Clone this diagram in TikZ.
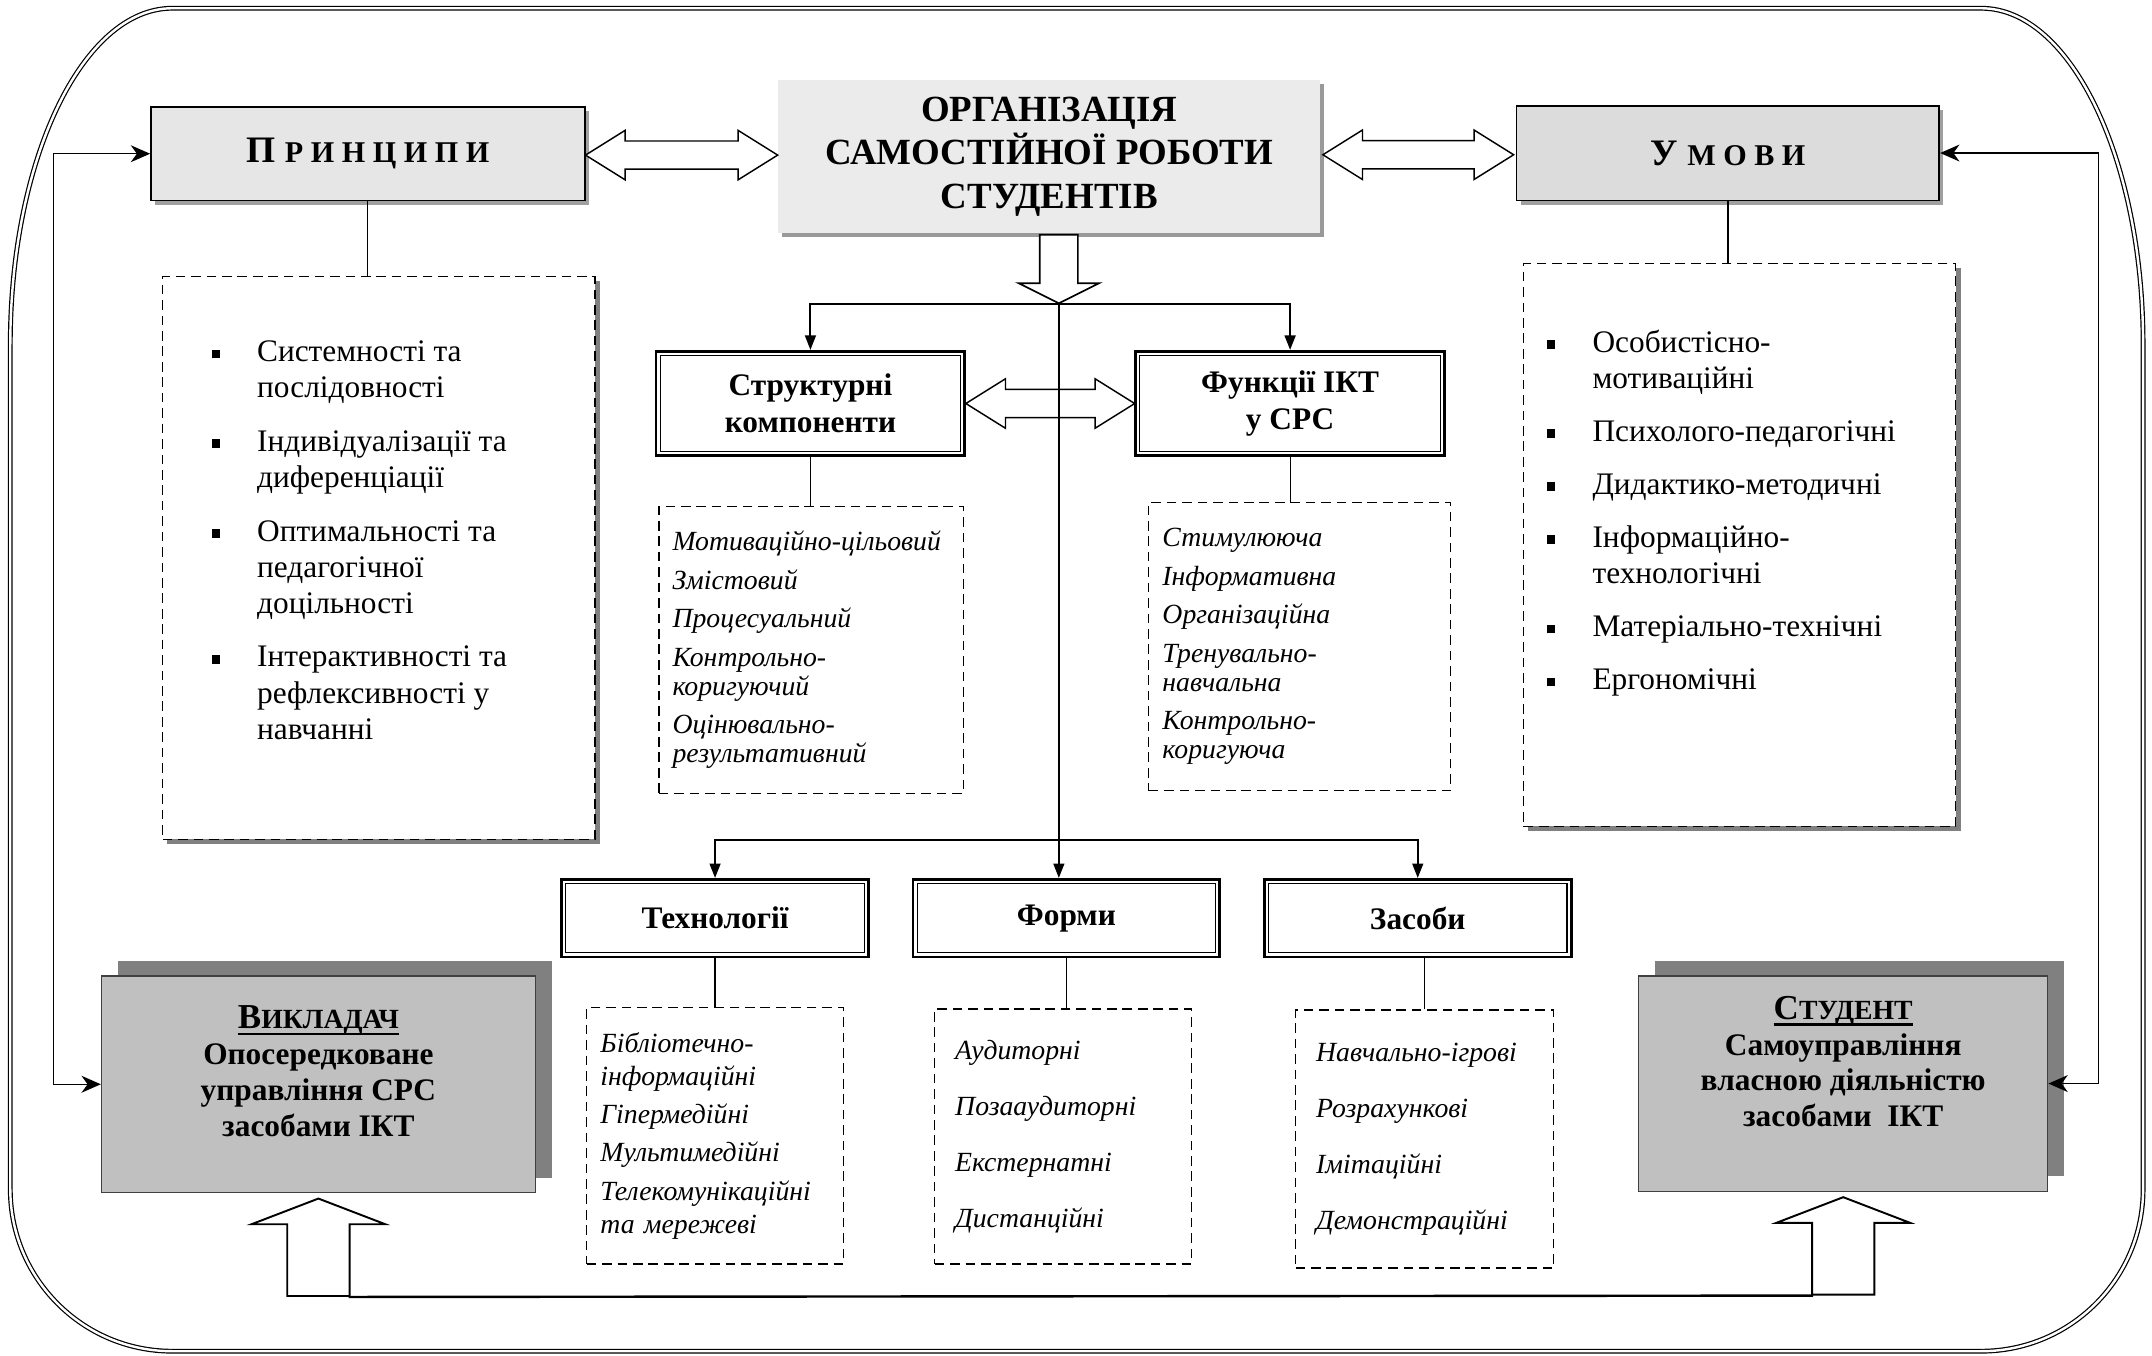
\documentclass[tikz,border=0pt]{standalone}
\usepackage{fontspec}
\setmainfont{Liberation Serif}
\usetikzlibrary{arrows.meta,shapes.arrows,shadows,calc}

\definecolor{boxgray}{HTML}{E6E6E6}
\definecolor{condgray}{HTML}{DCDCDC}
\definecolor{titlegray}{HTML}{EBEBEB}
\definecolor{rolegray}{HTML}{C0C0C0}
\definecolor{shadegray}{HTML}{808080}
\definecolor{lightshade}{HTML}{A0A0A0}

\newcommand{\sqb}{\rule[1.4pt]{3.4pt}{3.6pt}}
\newcommand{\tul}[1]{\setbox0\hbox{#1}\leavevmode\rlap{\rule[-2.6pt]{\wd0}{1.1pt}}\box0}

\begin{document}
\begin{tikzpicture}[node distance=5.12cm]
\tikzstyle{hdr}=[rectangle, draw=black, line width=0.7pt, minimum width=6.32cm, minimum height=1.36cm, font=\bfseries, drop shadow={shadow xshift=0.06cm, shadow yshift=-0.06cm, fill=lightshade, opacity=1}]
\tikzstyle{dbox}=[rectangle, draw=black, line width=1.2pt, minimum width=4.47cm, minimum height=1.13cm, align=center, font=\fontsize{13}{15.3}\selectfont\bfseries, fill=white]
\tikzstyle{dlist}=[rectangle, draw=black, line width=0.6pt, dash pattern=on 4pt off 2.4pt, align=left, font=\fontsize{11.5}{12}\selectfont\itshape, inner xsep=0.2cm]
\tikzstyle{biglist}=[dlist, minimum width=6.3cm, minimum height=8.2cm, fill=white, drop shadow={shadow xshift=0.07cm, shadow yshift=-0.07cm, fill=shadegray, opacity=1}]
\tikzstyle{bullets}=[anchor=base west, inner sep=0pt, font=\fontsize{13}{15}\selectfont]
\tikzstyle{role}=[rectangle, draw=black!75, line width=0.6pt, fill=rolegray, drop shadow={shadow xshift=0.24cm, shadow yshift=0.22cm, fill=shadegray, opacity=1}]
\tikzstyle{roletxt}=[align=center, font=\fontsize{13}{14.8}\selectfont\bfseries]
\tikzstyle{dblarr}=[double arrow, draw, fill=white, line width=0.6pt, inner xsep=0pt, inner ysep=0.195cm, double arrow head extend=0.155cm, double arrow tip angle=64]
\tikzstyle{uparr}=[single arrow, draw, fill=white, line width=0.8pt, inner xsep=0pt, inner ysep=0.44cm, rotate=90, single arrow head extend=0.52cm, single arrow tip angle=138, minimum height=1.42cm]
\tikzstyle{feed}=[line width=0.6pt, {Stealth[length=8pt,width=7pt,inset=2.5pt]}-{Stealth[length=8pt,width=7pt,inset=2.5pt]}]
\tikzstyle{down}=[line width=0.8pt, -{Triangle[length=6pt,width=4.5pt]}]
\useasboundingbox (0,0) rectangle (31.36,-19.76);

% outer frame
\draw[line width=0.5pt, double, double distance=1pt] (0.15,-5.02) -- (0.15,-17.33)
  arc[start angle=180, end angle=270, radius=2.36] -- (28.87,-19.69)
  arc[start angle=270, end angle=360, radius=2.36] -- (31.23,-5.02)
  arc[start angle=0, end angle=90, x radius=2.36, y radius=4.9] -- (2.51,-0.12)
  arc[start angle=90, end angle=180, x radius=2.36, y radius=4.9] -- cycle;

% top row
\node (title) [rectangle, fill=titlegray, minimum width=7.9cm, minimum height=2.24cm, align=center, font=\fontsize{15.3}{18.1}\selectfont\bfseries, drop shadow={shadow xshift=0.05cm, shadow yshift=-0.06cm, fill=gray!80, opacity=1}] at (15.29,-2.28) {ОРГАНІЗАЦІЯ\\САМОСТІЙНОЇ РОБОТИ\\СТУДЕНТІВ};
\node (princ) [hdr, fill=boxgray] at (5.36,-2.24) {\fontsize{15.5}{18}\selectfont П \fontsize{12.5}{18}\selectfont Р И Н Ц И П И};
\node (umovy) [hdr, fill=condgray, minimum width=6.16cm, minimum height=1.38cm] at (25.18,-2.23) {\fontsize{15.5}{18}\selectfont У \fontsize{12.5}{18}\selectfont М О В И};
\node (pa) [dblarr, minimum height=2.8cm] at ($(princ.east)!0.5!(title.west)$) {};
\node (ua) [dblarr, minimum height=2.78cm] at ($(title.east)!0.5!(umovy.west)$) {};
\node (dn) [single arrow, draw, fill=white, line width=0.7pt, inner xsep=0pt, inner ysep=0.265cm, rotate=-90, single arrow head extend=0.31cm, single arrow tip angle=127, minimum height=1.0cm, anchor=tail] at ([xshift=0.14cm]title.south) {};

% lists of principles and conditions
\node (princl) [biglist] at (5.52,-8.13) {};
\node (princt) [bullets] at (3.08,-5.27) {\begin{tabular}[t]{@{}p{0.66cm}@{}l@{}}
\sqb & Системності та\\ & послідовності\\[7.2pt]
\sqb & Індивідуалізації та\\ & диференціації\\[7.2pt]
\sqb & Оптимальності та\\ & педагогічної\\ & доцільності\\[7.2pt]
\sqb & Інтерактивності та\\ & рефлексивності у\\ & навчанні
\end{tabular}};
\node (umovyl) [biglist] at (25.35,-7.94) {};
\node (umovyt) [bullets] at (22.54,-5.13) {\begin{tabular}[t]{@{}p{0.66cm}@{}l@{}}
\sqb & Особистісно-\\ & мотиваційні\\[7pt]
\sqb & Психолого-педагогічні\\[7pt]
\sqb & Дидактико-методичні\\[7pt]
\sqb & Інформаційно-\\ & технологічні\\[7pt]
\sqb & Матеріально-технічні\\[7pt]
\sqb & Ергономічні
\end{tabular}};
\draw[line width=0.5pt] (princ.south) -- (princ.south |- princl.north);
\draw[line width=0.5pt] (umovy.south) -- (umovy.south |- umovyl.north);

% components and functions
\node (struct) [dbox, minimum width=4.5cm, minimum height=1.52cm] at (11.81,-5.88) {Структурні\\компоненти};
\node (funk) [dbox, minimum width=4.5cm, minimum height=1.52cm] at (18.8,-5.88) {Функції ІКТ\\у СРС};
\node (sfa) [dblarr, minimum height=2.46cm] at ($(struct.east)!0.5!(funk.west)$) {};
\node (compl) [dlist, minimum width=4.44cm, minimum height=4.18cm, text width=4.04cm] at (11.82,-9.47) {Мотиваційно-цільовий\\[4pt] Змістовий\\[4pt] Процесуальний\\[4pt] Контрольно-\\коригуючий\\[4pt] Оцінювально-\\результативний};
\node (funcl) [dlist, minimum width=4.4cm, minimum height=4.2cm, text width=4.0cm] at (18.94,-9.42) {Стимулююча\\[4pt] Інформативна\\[4pt] Організаційна\\[4pt] Тренувально-\\навчальна\\[4pt] Контрольно-\\коригуюча};
\draw[line width=0.5pt] (struct.south) -- (struct.south |- compl.north);
\draw[line width=0.5pt] (funk.south) -- (funk.south |- funcl.north);

% technologies, forms, means
\node (tech) [dbox] at (10.42,-13.38) {Технології};
\node (forms) [dbox, right of=tech] {Форми};
\node (zasoby) [dbox, right of=forms] {Засоби};
\node (techl) [dlist, below of=tech, node distance=3.17cm, minimum width=3.74cm, minimum height=3.74cm, text width=3.34cm, font=\fontsize{11.5}{13.6}\selectfont\itshape] {Бібліотечно-\\інформаційні\\[2.3pt] Гіпермедійні\\[2.3pt] Мультимедійні\\[2.3pt] Телекомунікаційні\\та мережеві};
\node (formsl) [dlist, below of=forms, node distance=3.18cm, xshift=-0.05cm, minimum width=3.74cm, minimum height=3.72cm, text width=3.14cm, inner xsep=0.3cm, font=\fontsize{11.5}{13.6}\selectfont\itshape] {Аудиторні\\[9.6pt] Позааудиторні\\[9.6pt] Екстернатні\\[9.6pt] Дистанційні};
\node (zasobyl) [dlist, below of=zasoby, node distance=3.22cm, xshift=0.1cm, minimum width=3.76cm, minimum height=3.76cm, text width=3.16cm, inner xsep=0.3cm, font=\fontsize{11.5}{13.6}\selectfont\itshape] {Навчально-ігрові\\[9.6pt] Розрахункові\\[9.6pt] Імітаційні\\[9.6pt] Демонстраційні};
\draw[line width=0.5pt] (tech.south) -- (tech.south |- techl.north);
\draw[line width=0.5pt] (forms.south) -- (forms.south |- formsl.north);
\draw[line width=0.5pt] (zasobyl.north) -- (zasobyl.north |- zasoby.south);
\foreach \n in {struct,funk,tech,forms,zasoby}
  \draw[line width=0.5pt] ([shift={(2.3pt,2.3pt)}]\n.south west) rectangle ([shift={(-2.3pt,-2.3pt)}]\n.north east);

% branching lines
\draw[down] (dn.tip) -| (struct.north);
\draw[down] (dn.tip) -| (funk.north);
\draw[down] (dn.tip) -- (dn.tip |- forms.north);
\coordinate (fork) at (dn.tip |- 0,-12.24);
\draw[down] (fork) -| (tech.north);
\draw[down] (fork) -| (zasoby.north);

% teacher and student
\node (vykl) [role, minimum width=6.32cm, minimum height=3.16cm] at (4.64,-15.8) {};
\node (vyklt) [roletxt] at ([yshift=0.19cm]vykl.center) {\tul{\fontsize{14.5}{14.8}\selectfont В\fontsize{11.5}{14.8}\selectfont ИКЛАДАЧ}\\Опосередковане\\управління СРС\\засобами ІКТ};
\node (student) [role, minimum width=5.96cm, minimum height=3.14cm] at (26.86,-15.79) {};
\node (studt) [roletxt] at ([yshift=0.32cm]student.center) {\tul{\fontsize{14.5}{14.8}\selectfont С\fontsize{11.5}{14.8}\selectfont ТУДЕНТ}\\Самоуправління\\власною діяльністю\\засобами\ \ ІКТ};
\node (upL) [uparr, anchor=tip] at ([yshift=-0.06cm]vykl.south) {};
\node (upR) [uparr, anchor=tip] at ([yshift=-0.06cm]student.south) {};
\draw[line width=1pt] ($(upL.tail)+(0.44,0)$) -- ($(upR.tail)+(-0.44,0)$);

% feedback lines
\coordinate (lcol) at (0.78,0);
\coordinate (rcol) at (30.58,0);
\draw[feed] (princ.west) -- (princ.west -| lcol) |- (vykl.west);
\draw[feed] (umovy.east) -- (umovy.east -| rcol) |- (student.east);
\end{tikzpicture}
\end{document}
